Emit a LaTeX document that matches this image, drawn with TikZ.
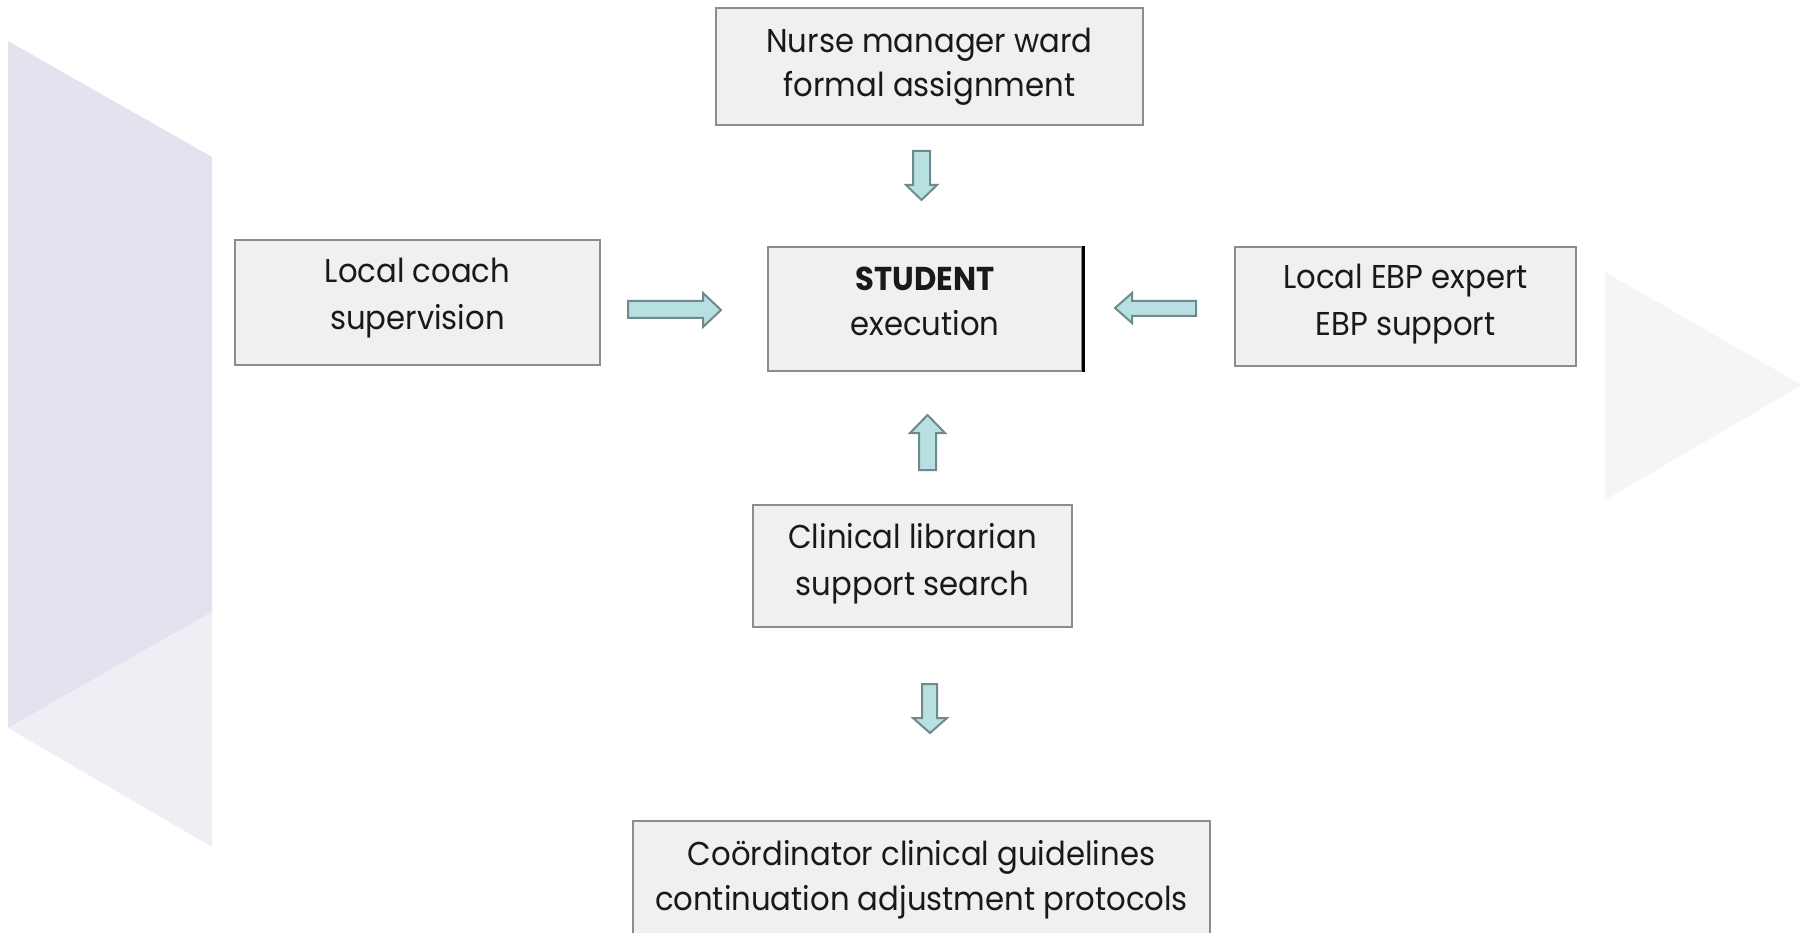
\documentclass[tikz,border=0pt]{standalone}
\usepackage{fontspec}
\setmainfont{Poppins}[FakeStretch=0.93]
\usetikzlibrary{calc}
\definecolor{boxfill}{HTML}{F0F0F0}
\definecolor{boxline}{HTML}{8C8C8C}
\definecolor{arrfill}{HTML}{B8DFE2}
\definecolor{arrline}{HTML}{6F8A8C}
\definecolor{lavdark}{HTML}{E6E1EF}
\definecolor{lavlight}{HTML}{F0EEF4}
\definecolor{trigray}{HTML}{F5F5F5}
\begin{document}
\begin{tikzpicture}[x=1pt,y=-1pt,
  box/.style={draw=boxline,fill=boxfill,line width=2.5pt,rectangle,inner sep=0pt},
  txt/.style={anchor=base,align=center,font=\fontsize{33}{47}\selectfont,text=black!90,inner sep=0pt},
  blk/.style={draw=arrline,fill=arrfill,line width=2pt,line join=miter}]
\useasboundingbox (0,0) rectangle (1810,933);
\clip (0,0) rectangle (1810,933);
% background shapes
\fill[lavdark] (8,41) -- (212,157) -- (212,612) -- (8,728) -- cycle;
\fill[lavlight] (8,728) -- (212,612) -- (212,847) -- cycle;
\fill[trigray] (1605,272) -- (1802,385) -- (1605,500) -- cycle;
% boxes
\node[box,minimum width=427,minimum height=117] (nurse) at (929.5,66.5) {};
\node[box,minimum width=365,minimum height=125] (coach) at (417.5,302.5) {};
\node[box,minimum width=314,minimum height=124] (student) at (925,309) {};
\draw[black,line width=2.5pt] (student.north east) -- (student.south east);
\node[box,minimum width=341,minimum height=119] (ebp) at (1405.5,306.5) {};
\node[box,minimum width=319,minimum height=122] (lib) at (912.5,566) {};
\node[box,minimum width=577,minimum height=200] (coord) at (921.5,921) {};
% texts (anchored at the baseline of the last line)
\node[txt,font=\fontsize{33}{44}\selectfont] (nursetxt) at (929.5,97) {Nurse manager ward\\formal assignment};
\node[txt] (coachtxt) at (417.5,330) {Local coach\\supervision};
\node[txt,font=\fontsize{33}{44}\selectfont] (studenttxt) at (925,335) {\textbf{STUDENT}\\execution};
\node[txt] (ebptxt) at (1405.5,335) {Local EBP expert\\EBP support};
\node[txt] (libtxt) at (912.5,595) {Clinical librarian\\support search};
\node[txt,font=\fontsize{33}{45}\selectfont] (coordtxt) at (921.5,910) {Coördinator clinical guidelines\\continuation adjustment protocols};
% block arrows
\draw[blk] (913,151) -- (930,151) -- (930,185) -- (937,185) -- (921.5,200) -- (906,185) -- (913,185) -- cycle;
\draw[blk] (628,301) -- (703,301) -- (703,293) -- (721,310) -- (703,327) -- (703,318) -- (628,318) -- cycle;
\draw[blk] (1196,301) -- (1132,301) -- (1132,293) -- (1115,308) -- (1132,323) -- (1132,316) -- (1196,316) -- cycle;
\draw[blk] (919,470) -- (919,433) -- (910,433) -- (927.5,415) -- (945,433) -- (936,433) -- (936,470) -- cycle;
\draw[blk] (922,684) -- (937,684) -- (937,718) -- (947,718) -- (930,733) -- (913,718) -- (922,718) -- cycle;
\end{tikzpicture}
\end{document}
